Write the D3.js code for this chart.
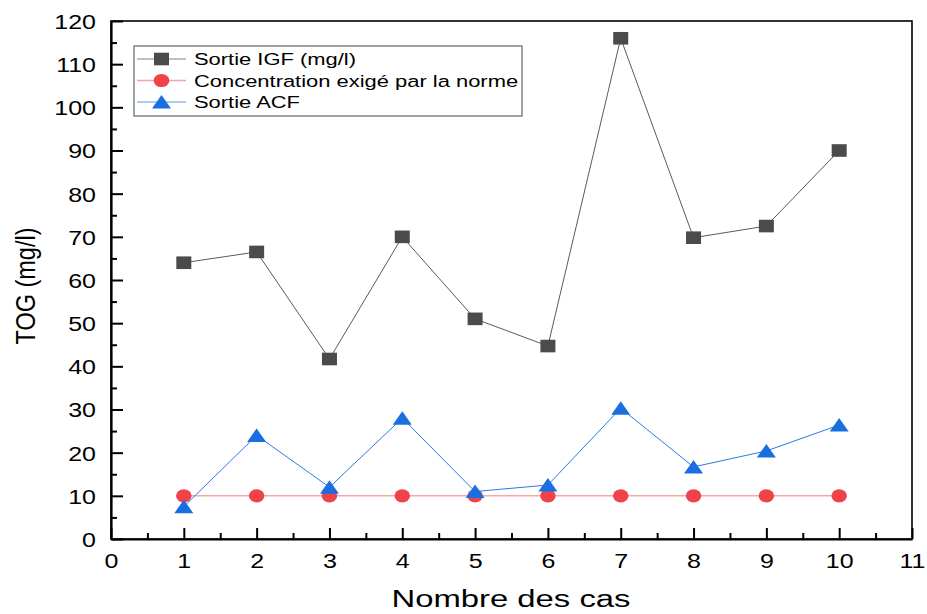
<!DOCTYPE html>
<html>
<head>
<meta charset="utf-8">
<script src="https://cdn.jsdelivr.net/npm/d3@7"></script>
<style>
  body { margin: 0; background: #fff; }
  text { font-family: Arial, 'Liberation Sans', sans-serif; fill: #000; }
</style>
</head>
<body>
<div id="chart"></div>
<script>
// data
var cases = [1, 2, 3, 4, 5, 6, 7, 8, 9, 10]
var sortieIGF = [64, 66.5, 41.7, 70, 51, 44.7, 116, 69.8, 72.5, 90]
var norme = [10, 10, 10, 10, 10, 10, 10, 10, 10, 10]
var sortieACF = [7.5, 24, 12, 28, 11, 12.5, 30.3, 16.7, 20.4, 26.4]

var xTicks = [0, 1, 2, 3, 4, 5, 6, 7, 8, 9, 10, 11]
var yTicks = [0, 10, 20, 30, 40, 50, 60, 70, 80, 90, 100, 110, 120]

var seriesNames = ['Sortie IGF (mg/l)', 'Concentration exigé par la norme', 'Sortie ACF']

var width = 927
var height = 614
var margin = { top: 21, right: 15, bottom: 75, left: 111 }
var SX = 1.22 // the picture is stretched sideways

var svg = d3
  .select('#chart')
  .append('svg')
  .attr('width', width)
  .attr('height', height)

var x = d3.scaleLinear().domain([0, 11]).range([margin.left, width - margin.right])
var y = d3.scaleLinear().domain([0, 120]).range([height - margin.bottom, margin.top])

// frame (top + right)
svg
  .append('rect')
  .attr('x', x(0))
  .attr('y', y(120))
  .attr('width', x(11) - x(0))
  .attr('height', y(0) - y(120))
  .attr('fill', 'none')
  .attr('stroke', '#000')
  .attr('stroke-width', 1.6)

// minor ticks
svg
  .append('g')
  .attr('transform', 'translate(0,' + y(0) + ')')
  .call(d3.axisBottom(x).tickValues(d3.range(0.5, 11, 1)).tickSize(-6).tickSizeOuter(0).tickFormat(''))
  .call(g => g.select('.domain').remove())
  .call(g => g.selectAll('line').attr('stroke-width', 2))

svg
  .append('g')
  .attr('transform', 'translate(' + x(0) + ',0)')
  .call(d3.axisLeft(y).tickValues(d3.range(5, 120, 10)).tickSize(-6).tickSizeOuter(0).tickFormat(''))
  .call(g => g.select('.domain').remove())
  .call(g => g.selectAll('line').attr('stroke-width', 2))

// major axes
var xAxis = svg
  .append('g')
  .attr('transform', 'translate(0,' + y(0) + ')')
  .call(d3.axisBottom(x).tickValues(xTicks).tickSize(-11).tickSizeOuter(0).tickPadding(14))

xAxis.select('.domain').attr('stroke-width', 2.2)
xAxis.selectAll('line').attr('stroke-width', 2)
xAxis
  .selectAll('text')
  .attr('font-size', 20.5)
  .attr('dy', null)
  .attr('y', 0)
  .attr('transform', 'translate(0,29) scale(' + SX + ',1)')

var yAxis = svg
  .append('g')
  .attr('transform', 'translate(' + x(0) + ',0)')
  .call(d3.axisLeft(y).tickValues(yTicks).tickSize(-12).tickSizeOuter(0).tickPadding(15))

yAxis.select('.domain').attr('stroke-width', 2.2)
yAxis.selectAll('line').attr('stroke-width', 2)
yAxis
  .selectAll('text')
  .attr('font-size', 20.5)
  .attr('x', 0)
  .attr('dy', '0.36em')
  .attr('transform', 'translate(-15,0) scale(' + SX + ',1)')

svg.selectAll('.tick text').attr('fill', '#000').style('font-family', "Arial, 'Liberation Sans', sans-serif")

// axis titles
svg
  .append('text')
  .attr('x', 511)
  .attr('y', 607)
  .attr('text-anchor', 'middle')
  .attr('font-size', 23)
  .attr('textLength', 239)
  .attr('lengthAdjust', 'spacingAndGlyphs')
  .text('Nombre des cas')

svg
  .append('text')
  .attr('transform', 'translate(35,' + 286 + ') rotate(-90) scale(1,1.15)')
  .attr('text-anchor', 'middle')
  .attr('font-size', 23.5)
  .text('TOG (mg/l)')

// marker shapes
function square(g, cx, cy, color) {
  g.append('rect')
    .attr('x', cx - 7.5)
    .attr('y', cy - 6.3)
    .attr('width', 15)
    .attr('height', 12.6)
    .attr('fill', color)
}
function circle(g, cx, cy, color) {
  g.append('ellipse')
    .attr('cx', cx)
    .attr('cy', cy)
    .attr('rx', 7.8)
    .attr('ry', 6.6)
    .attr('fill', color)
}
function triangle(g, cx, cy, color) {
  g.append('path')
    .attr('d', 'M' + (cx - 9.5) + ',' + (cy + 6.5) + 'L' + (cx + 9.5) + ',' + (cy + 6.5) + 'L' + cx + ',' + (cy - 7) + 'Z')
    .attr('fill', color)
}

var series = [
  { name: seriesNames[0], values: sortieIGF, line: '#5a5a5a', legendLine: '#aaaaaa', fill: '#4b4b4b', shape: square },
  { name: seriesNames[1], values: norme, line: '#f07c80', legendLine: '#f5a5a8', fill: '#f04349', shape: circle },
  { name: seriesNames[2], values: sortieACF, line: '#2a7ae6', legendLine: '#92b9ee', fill: '#1a6fe0', shape: triangle }
]

var line = d3
  .line()
  .x(d => x(d[0]))
  .y(d => y(d[1]))

series.forEach(s => {
  var pts = cases.map((c, i) => [c, s.values[i]])
  var g = svg.append('g').attr('class', 'series')
  g.append('path')
    .datum(pts)
    .attr('d', line)
    .attr('fill', 'none')
    .attr('stroke', s.line)
    .attr('stroke-width', 1)
  pts.forEach(p => s.shape(g, x(p[0]), y(p[1]), s.fill))
})

// legend
var legend = svg.append('g').attr('class', 'legend')
legend
  .append('rect')
  .attr('x', 134)
  .attr('y', 46)
  .attr('width', 388)
  .attr('height', 70)
  .attr('fill', '#fff')
  .attr('stroke', '#444')
  .attr('stroke-width', 1)

series.forEach((s, i) => {
  var ly = 59 + i * 21.5
  legend
    .append('line')
    .attr('x1', 137)
    .attr('x2', 186)
    .attr('y1', ly)
    .attr('y2', ly)
    .attr('stroke', s.legendLine)
    .attr('stroke-width', 1.3)
  s.shape(legend, 161.5, ly, s.fill)
  legend
    .append('text')
    .attr('transform', 'translate(194,' + (ly + 6.2) + ') scale(1.29,1)')
    .attr('font-size', 17)
    .text(s.name)
})
</script>
</body>
</html>
